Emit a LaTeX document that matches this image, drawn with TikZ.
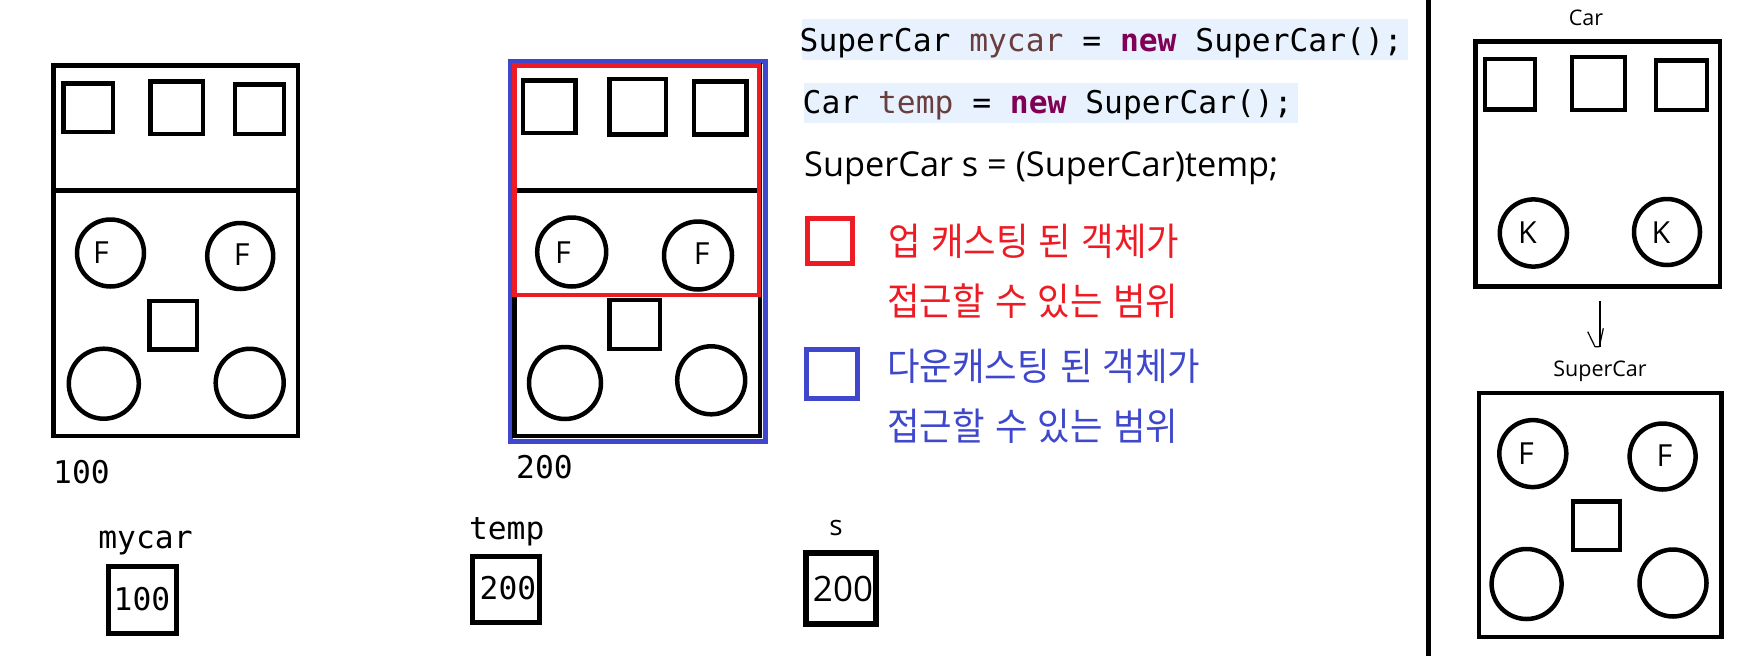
\documentclass[tikz,border=0pt]{standalone}
\usepackage{fontspec}
\setmainfont{Open Sans}
\newfontfamily\monof{DejaVu Sans Mono}
\newfontfamily\sansf{Open Sans}
\newfontfamily\krf[FakeStretch=0.93]{Noto Sans CJK KR}
\newcommand\krtext[1]{\spaceskip=10.3pt\relax #1}
\definecolor{codebg}{HTML}{E8F2FE}
\definecolor{varcol}{HTML}{6A3E3E}
\definecolor{kwcol}{HTML}{7F0055}
\definecolor{pred}{HTML}{ED1C24}
\definecolor{pblue}{HTML}{3F48CC}
\begin{document}
\begin{tikzpicture}[x=1pt,y=-1pt,
  shp/.style={line width=4.5pt,draw=black},
  vbox/.style={line width=5pt,draw=black},
  lett/.style={inner sep=0pt,font=\sansf\fontsize{30.4}{31}\selectfont},
  mono/.style={inner sep=0pt,anchor=base,font=\monof\fontsize{31.3}{31}\selectfont},
  code/.style={inner sep=0pt,anchor=base west,font=\monof\fontsize{31.3}{31}\selectfont},
  kr/.style={inner sep=0pt,anchor=base west,font=\krf\fontsize{38}{38}\selectfont},
  small/.style={inner sep=0pt,anchor=base,font=\sansf\fontsize{21.5}{22}\selectfont}]
\useasboundingbox (0,0) rectangle (1758,656);

% ---------- left car (mycar, 100) ----------
\draw[shp] (53.6,65.6) rectangle (298.2,436);
\draw[shp] (53.6,190.4) -- (298.2,190.4);
\draw[shp] (63.7,83.6) rectangle (113,132);
\draw[shp] (150.7,81.5) rectangle (202.8,134);
\draw[shp] (234.9,84.4) rectangle (284.2,134);
\draw[shp] (110.5,253) circle[radius=33.5];
\draw[shp] (240.2,256) circle[radius=33];
\node[lett] (lf1) at (101,253) {F};
\node[lett] (lf2) at (241.6,255) {F};
\draw[shp] (149.6,301) rectangle (197.2,349.5);
\draw[shp] (103.8,383.7) circle[radius=35];
\draw[shp] (249.7,382.8) circle[radius=34];
\node[mono] (addr1) at (81.5,483) {100};

% ---------- middle car (temp, 200) ----------
\draw[line width=5pt,draw=pblue] (510,61) rectangle (765,441);
\draw[shp] (514.5,65.5) rectangle (760,436);
\draw[shp] (514.5,190.5) -- (760,190.5);
\draw[shp] (523,80.5) rectangle (575.5,133);
\draw[shp] (609.5,79) rectangle (666,134.5);
\draw[shp] (694,81.5) rectangle (746.5,134.5);
\draw[shp] (571.7,252) circle[radius=34.5];
\draw[shp] (698,255.5) circle[radius=34];
\node[lett] (mf1) at (563,252.5) {F};
\node[lett] (mf2) at (701.7,253.5) {F};
\draw[shp] (609.5,300) rectangle (660,349);
\draw[shp] (565,383) circle[radius=36];
\draw[shp] (711.2,380.3) circle[radius=34];
\draw[line width=4.5pt,draw=pred] (514.5,65.5) rectangle (759,295);
\node[mono] (addr2) at (544.5,478.3) {200};

% ---------- variables ----------
\node[mono] (vmycar) at (145.5,548.3) {mycar};
\draw[vbox] (108.5,566) rectangle (176.5,633.5);
\node[mono] (vmycarv) at (142,610) {100};
\node[mono] (vtemp) at (506.7,539.3) {temp};
\draw[vbox] (472,556) rectangle (539,622);
\node[mono] (vtempv) at (508,599.3) {200};
\node[inner sep=0pt,anchor=base,font=\sansf\fontsize{28}{28}\selectfont] (vs) at (836,535) {s};
\draw[line width=6pt] (806,553.3) rectangle (876,624);
\node[inner sep=0pt,anchor=base,font=\sansf\fontsize{35}{35}\selectfont] (vsv) at (843,601) {200};

% ---------- code ----------
\fill[codebg] (801.7,19.3) rectangle (1407.7,60);
\fill[codebg] (804,83.3) rectangle (1297.7,123.3);
\node[code] (c1) at (799.5,51.7) {SuperCar \textcolor{varcol}{mycar} = \textcolor{kwcol}{\bfseries new} SuperCar();};
\node[code] (c2) at (802.5,113.3) {Car \textcolor{varcol}{temp} = \textcolor{kwcol}{\bfseries new} SuperCar();};
\node[inner sep=0pt,anchor=base west,font=\sansf\fontsize{34.3}{34}\selectfont] (c3) at (804,176.7) {SuperCar s = (SuperCar)temp;};

% ---------- legend ----------
\draw[line width=5pt,draw=pred] (807.5,218.5) rectangle (852.5,263.5);
\node[kr,text=pred] (r1) at (888,255.5) {\krtext{업 캐스팅 된 객체가}};
\node[kr,text=pred] (r2) at (887,315.5) {\krtext{접근할 수 있는 범위}};
\draw[line width=5.3pt,draw=pblue] (806.7,349.7) rectangle (857.3,398.3);
\node[kr,text=pblue] (b1) at (887,380) {\krtext{다운캐스팅 된 객체가}};
\node[kr,text=pblue] (b2) at (887,440.5) {\krtext{접근할 수 있는 범위}};

% ---------- separator ----------
\draw[line width=4.7pt] (1428.3,0) -- (1428.3,656);

% ---------- right: Car ----------
\node[small] (carlbl) at (1586,25) {Car};
\draw[shp] (1475.5,41.5) rectangle (1720,286.5);
\draw[shp] (1485,59) rectangle (1535,109.5);
\draw[shp] (1572,57) rectangle (1625,110);
\draw[shp] (1656,60.5) rectangle (1707,110);
\draw[shp] (1533.4,233) circle[radius=33.6];
\draw[shp] (1667,232) circle[radius=33];
\node[lett] (k1) at (1527.5,232.5) {K};
\node[lett] (k2) at (1661,232.5) {K};

% ---------- arrow ----------
\coordinate (aS) at (1600,300.7);
\coordinate (aE) at (1600,346.7);
\draw[line width=1.2pt] (aS) -- (aE);
\draw[line width=1.2pt,line join=round] (1587.7,331.7) -- (1595,346.7) -- (1599.3,346.7) -- (1603.3,328.3);

% ---------- right: SuperCar ----------
\node[small] (sclbl) at (1600,376.7) {SuperCar};
\draw[shp] (1479,393) rectangle (1721.5,637);
\draw[shp] (1532.8,453.6) circle[radius=33.5];
\draw[shp] (1662.6,456.5) circle[radius=33];
\node[lett] (sf1) at (1526,454) {F};
\node[lett] (sf2) at (1664.5,455.7) {F};
\draw[shp] (1573,501.5) rectangle (1620,550);
\draw[shp] (1526.6,584) circle[radius=35];
\draw[shp] (1673,583) circle[radius=33.5];
\end{tikzpicture}
\end{document}
